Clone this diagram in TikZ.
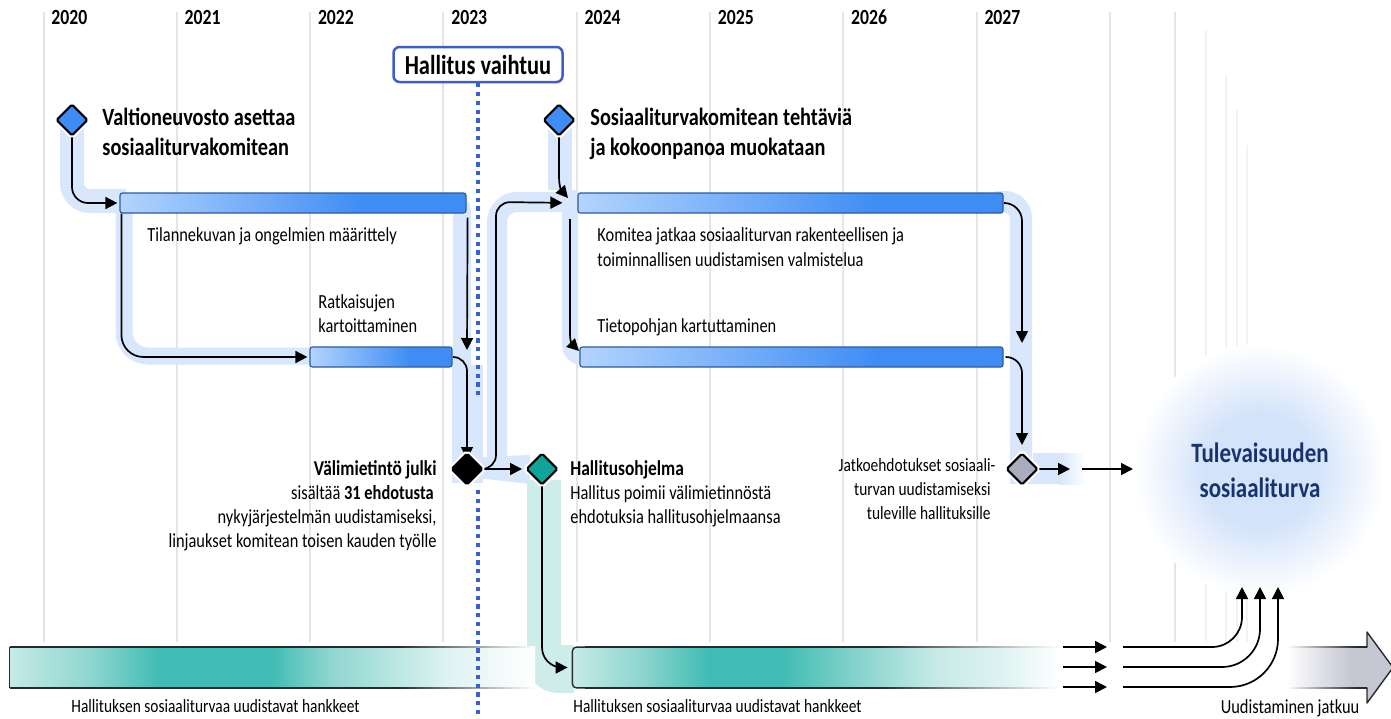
\documentclass[tikz,border=0pt]{standalone}
\usepackage{fontspec}
\setmainfont{Carlito}[FakeStretch=0.82]
\usetikzlibrary{arrows.meta,shapes.geometric}
\definecolor{bandblue}{HTML}{D8E7FC}
\definecolor{barlight}{HTML}{B3D4FD}
\definecolor{bardark}{HTML}{3F8DF4}
\definecolor{barline}{HTML}{2B5C9E}
\definecolor{diablue}{HTML}{3F8DF4}
\definecolor{diateal}{HTML}{0FA399}
\definecolor{diagrey}{HTML}{AAACBE}
\definecolor{tealband}{HTML}{CDECEA}
\definecolor{teallight}{HTML}{C6EAE7}
\definecolor{tealmid}{HTML}{8FD6CF}
\definecolor{tealdark}{HTML}{3FBCB3}
\definecolor{tealpale}{HTML}{DDF3F1}
\definecolor{dotblue}{HTML}{3A5FD0}
\definecolor{boxblue}{HTML}{3D5FC2}
\definecolor{gridc}{HTML}{E3E4EC}
\definecolor{gridf}{HTML}{F3F3F7}
\definecolor{navy}{HTML}{17336E}
\definecolor{glowc}{HTML}{D3E3FA}
\definecolor{arrgrey}{HTML}{C5C7D3}
\definecolor{edgec}{HTML}{2A2A2A}
\pgfdeclarehorizontalshading{barshade}{100bp}{color(0bp)=(barlight); color(25bp)=(barlight); color(60bp)=(bardark); color(100bp)=(bardark)}
\pgfdeclarehorizontalshading{tealA}{100bp}{color(0bp)=(teallight); color(25bp)=(teallight); color(32.6bp)=(tealmid); color(39.3bp)=(tealdark); color(49.8bp)=(tealdark); color(55.5bp)=(tealmid); color(66.5bp)=(tealpale); color(75bp)=(white); color(100bp)=(white)}
\pgfdeclarehorizontalshading{tealB}{100bp}{color(0bp)=(teallight); color(25bp)=(teallight); color(32bp)=(tealmid); color(39.1bp)=(tealdark); color(46.3bp)=(tealdark); color(55.3bp)=(tealmid); color(62.2bp)=(teallight); color(69bp)=(tealpale); color(75bp)=(white); color(100bp)=(white)}
\pgfdeclarehorizontalshading{edgeA}{100bp}{color(0bp)=(edgec); color(62bp)=(edgec); color(75bp)=(white); color(100bp)=(white)}
\pgfdeclarehorizontalshading{edgeB}{100bp}{color(0bp)=(edgec); color(56bp)=(edgec); color(75bp)=(white); color(100bp)=(white)}
\pgfdeclarehorizontalshading{garrow}{100bp}{color(0bp)=(white); color(25bp)=(white); color(55bp)=(arrgrey); color(100bp)=(arrgrey)}
\pgfdeclarehorizontalshading{gedge}{100bp}{color(0bp)=(white); color(25bp)=(white); color(68bp)=(edgec); color(100bp)=(edgec)}
\pgfdeclareradialshading{glow}{\pgfpoint{0bp}{0bp}}{color(0bp)=(glowc); color(11bp)=(glowc); color(25bp)=(white); color(50bp)=(white)}
\begin{document}
\begin{tikzpicture}[x=0.5pt,y=-0.5pt,
  arr/.style={draw=black, line width=0.85pt, -{Triangle[length=6pt,width=6pt]}},
  dia/.style={diamond, draw=black, line width=1pt, minimum width=15.8pt, minimum height=15.8pt, inner sep=0pt, rounded corners=0.8pt, preaction={draw=white, line width=3.2pt}},
  bar/.style={rectangle, draw=barline, line width=0.6pt, rounded corners=1.2pt, minimum height=10pt, inner sep=0pt, shade, shading=barshade},
  gridl/.style={draw=gridc, line width=0.7pt},
  txt/.style={font=\fontsize{10}{12}\selectfont, inner sep=0pt},
  txtb/.style={font=\fontsize{10.6}{12}\selectfont\bfseries, inner sep=0pt},
  txts/.style={font=\fontsize{9.4}{12}\selectfont, inner sep=0pt},
  ttl/.style={font=\fontsize{12.4}{15}\selectfont\bfseries, inner sep=0pt, anchor=base west},
  yr/.style={font=\fontsize{10.8}{12}\selectfont\bfseries, inner sep=0pt, anchor=base west},
  fut/.style={font=\fontsize{14}{16}\selectfont\bfseries, text=navy, inner sep=0pt, anchor=base},
  dots/.style={draw=dotblue, line width=1.7pt, dash pattern=on 2.1pt off 2.3pt}]
\useasboundingbox (0,0) rectangle (1391,718);
% grid
\foreach \x in {44,177,310,443,577,710,843,977,1110,1175} \draw[gridl] (\x,12) -- (\x,642);
\draw[gridf, line width=0.6pt] (1206,30) -- (1206,642);
\draw[gridf, line width=0.6pt] (1226,75) -- (1226,642);
\draw[gridf, line width=0.6pt] (1237,110) -- (1237,642);
\draw[gridf, line width=0.6pt] (1247,145) -- (1247,642);
% years
\foreach \yr [count=\i from 0] in {2020,2021,2022,2023,2024,2025,2026,2027}
  \node[yr] (y\yr) at (51+133.3*\i,24) {\yr};
% glow
\shade[shading=glow] (1260,470) circle [radius=63pt];
% bands
\draw[bandblue, line width=12pt, rounded corners=9pt] (72,118) -- (72,201) -- (126,201);
\draw[bandblue, line width=8.5pt, rounded corners=12pt] (124,212) -- (124,356) -- (312,356);
\draw[bandblue, line width=9pt, rounded corners=5pt] (455,202) -- (462,202) -- (462,470);
\fill[bandblue] (452,365) rectangle (483,483);
\draw[bandblue, line width=10pt, rounded corners=10pt] (497,475) -- (497,202) -- (578,202);
\fill[bandblue] (478,457) -- (530,455) -- (530,484) -- (478,478) -- cycle;
\draw[bandblue, line width=12pt] (560,120) -- (560,190);
\draw[bandblue, line width=8pt, rounded corners=6pt] (570,190) -- (570,357) -- (585,357);
\draw[bandblue, line width=11pt, rounded corners=8pt] (995,202) -- (1021,202) -- (1021,478);
\fill[bandblue] (1010,460) rectangle (1060,484);
\shade[left color=bandblue, right color=white] (1059,453) rectangle (1086,484);
\fill[bandblue] (1033,453) rectangle (1060,484);
\fill[tealband] (561,480) -- (527,480) -- (527,660) .. controls (527,680) and (540,693) .. (560,693) -- (574,693) -- (574,645) -- (561,645) -- cycle;
% Hallitus vaihtuu + dotted line
\node[draw=boxblue, line width=1.25pt, fill=white, rounded corners=3pt, minimum width=84.5pt, minimum height=17.5pt, inner sep=0pt, font=\fontsize{13.7}{15}\selectfont\bfseries] (hv) at (478,64.5) {Hallitus vaihtuu};
\coordinate (dotA) at (478,400);
\coordinate (dotB) at (478,490);
\coordinate (dotC) at (478,718);
\draw[dots] (hv.south) -- (dotA);
% bottom bars
\node[shade, shading=tealA, minimum width=262.5pt, minimum height=20.5pt, inner sep=0pt] (bb1) at (272.5,667.5) {};
\shade[shading=edgeA] (10,646.4) rectangle (535,647.8);
\shade[shading=edgeA] (10,687.2) rectangle (535,688.6);
\draw[edgec, line width=0.7pt] (bb1.north west) -- (bb1.south west);
\draw[dots] (dotB) -- (dotC);
\node[shade, shading=tealB, rounded corners=2pt, minimum width=244pt, minimum height=20.5pt, inner sep=0pt] (bb2) at (816,667.5) {};
\draw[edgec, line width=0.7pt, rounded corners=2pt] (586,647.1) -- (572.4,647.1) -- (572.4,687.9) -- (586,687.9);
\shade[shading=edgeB] (585,646.4) rectangle (1060,647.8);
\shade[shading=edgeB] (585,687.2) rectangle (1060,688.6);
% grey arrow
\shade[shading=garrow] (1287,647) -- (1367,647) -- (1367,632) -- (1393,667.5) -- (1367,703) -- (1367,688) -- (1287,688) -- cycle;
\draw[edgec, line width=0.7pt, line join=round] (1367,647) -- (1367,632) -- (1393,667.5) -- (1367,703) -- (1367,688);
\shade[shading=gedge] (1287,646.3) rectangle (1367.3,647.7);
\shade[shading=gedge] (1287,687.3) rectangle (1367.3,688.7);
% blue bars
\node[bar, minimum width=173pt] (b1) at (293,203) {};
\node[bar, minimum width=71pt] (b2) at (381,357) {};
\node[bar, minimum width=212.5pt] (b3) at (790.5,203) {};
\node[bar, minimum width=211.5pt] (b4) at (791.5,357) {};
% diamonds positions (coordinates for arrows)
\coordinate (d1c) at (72,120);
\coordinate (d2c) at (559,120);
\coordinate (dkc) at (467,469);
\coordinate (dtc) at (542,469);
\coordinate (dgc) at (1022,469);
% arrows
\draw[arr, rounded corners=8pt, shorten >=1pt] (d1c) |- (b1.west);
\draw[arr, rounded corners=11pt, shorten >=1pt] ([xshift=1pt]b1.south west) |- (b2.west);
\coordinate (a3e) at (467,350);
\draw[arr] ([xshift=0.5pt,yshift=-2pt]b1.south east) -- (a3e);
\draw[arr, rounded corners=7pt, shorten >=5pt] ([xshift=0.5pt]b2.east) -| (dkc);
\coordinate (a5a) at (496,469);
\coordinate (a5b) at (496,202);
\draw[arr, rounded corners=7pt, shorten >=7.5pt] (dkc) -- (a5a) -- (a5b) -- (b3.west);
\draw[arr, shorten >=10pt] (dkc) -- (dtc);
\coordinate (a7a) at (559,176);
\coordinate (a7e) at (568,198);
\draw[arr] (d2c) -- (a7a) .. controls (559,188) and (562,191) .. (a7e);
\coordinate (a8s) at (570,219);
\coordinate (a8a) at (570,334);
\coordinate (a8e) at (579,351);
\draw[arr] (a8s) -- (a8a) .. controls (570,344) and (573,345) .. (a8e);
\coordinate (a9e) at (1022,343);
\draw[arr, rounded corners=9pt] ([xshift=1pt]b3.east) -| (a9e);
\draw[arr, rounded corners=8pt, shorten >=12pt] ([xshift=1pt]b4.east) -| (dgc);
\coordinate (a11e) at (1070,469);
\draw[arr, shorten <=7pt] (dgc) -- (a11e);
\coordinate (a12s) at (1082,469);
\coordinate (a12e) at (1133,469);
\draw[arr] (a12s) -- (a12e);
\draw[arr, rounded corners=10pt, shorten >=2pt] (dtc) |- (bb2.west);
% bottom arrows
\foreach \yy/\xx/\rr [count=\k] in {647/1242/15pt, 667/1260/19pt, 687/1278/24pt} {
  \coordinate (s\k) at (1063,\yy);
  \coordinate (m\k) at (1107,\yy);
  \coordinate (c\k) at (1123,\yy);
  \coordinate (e\k) at (\xx,587);
  \draw[arr] (s\k) -- (m\k);
  \draw[arr, rounded corners=\rr] (c\k) -| (e\k);
}
% diamonds
\node[dia, fill=diablue] (d1) at (d1c) {};
\node[dia, fill=diablue] (d2) at (d2c) {};
\node[dia, fill=black] (dk) at (dkc) {};
\node[dia, fill=diateal] (dt) at (dtc) {};
\node[dia, fill=diagrey] (dg) at (dgc) {};
% texts
\node[ttl] (t1a) at (102,125) {Valtioneuvosto asettaa};
\node[ttl] (t1b) at (102,155) {sosiaaliturvakomitean};
\node[ttl] (t2a) at (590,125) {Sosiaaliturvakomitean tehtäviä};
\node[ttl] (t2b) at (590,155) {ja kokoonpanoa muokataan};
\node[txt, anchor=base west] (l1) at (147,241) {Tilannekuvan ja ongelmien määrittely};
\node[txt, anchor=base west] (l2a) at (597,241) {Komitea jatkaa sosiaaliturvan rakenteellisen ja};
\node[txt, anchor=base west] (l2b) at (597,266) {toiminnallisen uudistamisen valmistelua};
\node[txt, anchor=base west] (l3a) at (318,308) {Ratkaisujen};
\node[txt, anchor=base west] (l3b) at (318,332) {kartoittaminen};
\node[txt, anchor=base west] (l4) at (597,332) {Tietopohjan kartuttaminen};
\node[txtb, anchor=base east] (v1) at (437,475) {Välimietintö julki};
\node[txt, anchor=base east] (v2) at (434,499) {sisältää \textbf{31 ehdotusta}};
\node[txt, anchor=base east] (v3) at (437,523) {nykyjärjestelmän uudistamiseksi,};
\node[txt, anchor=base east] (v4) at (437,547) {linjaukset komitean toisen kauden työlle};
\node[txtb, anchor=base west] (h1) at (570,475) {Hallitusohjelma};
\node[txt, anchor=base west] (h2) at (570,499) {Hallitus poimii välimietinnöstä};
\node[txt, anchor=base west] (h3) at (570,523) {ehdotuksia hallitusohjelmaansa};
\node[txts, anchor=base east] (j1) at (991,471) {Jatkoehdotukset sosiaali\rlap{-}};
\node[txts, anchor=base east] (j2) at (991,495) {turvan uudistamiseksi};
\node[txts, anchor=base east] (j3) at (991,519) {tuleville hallituksille};
\node[fut] (f1) at (1260,462) {Tulevaisuuden};
\node[fut] (f2) at (1260,497) {sosiaaliturva};
\node[txts, anchor=base west] (g1) at (71,712) {Hallituksen sosiaaliturvaa uudistavat hankkeet};
\node[txts, anchor=base west] (g2) at (573,712) {Hallituksen sosiaaliturvaa uudistavat hankkeet};
\node[txt, anchor=base] (g3) at (1290,713) {Uudistaminen jatkuu};
\end{tikzpicture}
\end{document}
